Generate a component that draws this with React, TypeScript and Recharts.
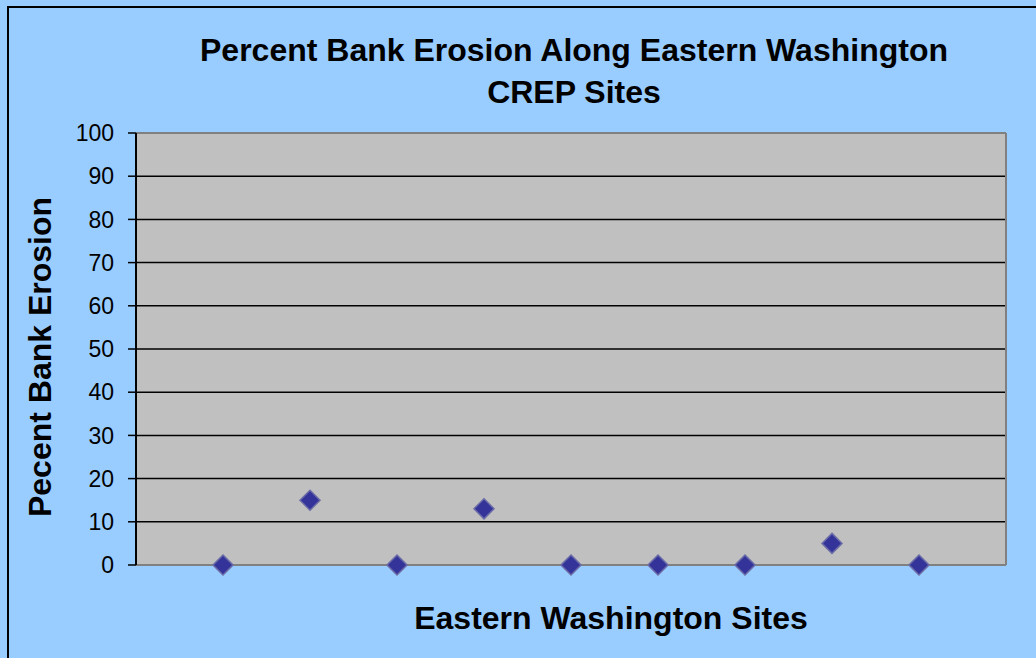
import React from "react";
import { ScatterChart, Scatter, XAxis, YAxis, CartesianGrid, ReferenceLine } from "recharts";

const sites = [1, 2, 3, 4, 5, 6, 7, 8, 9];
const erosion = [0, 15, 0, 13, 0, 0, 0, 5, 0];
const yTicks = [0, 10, 20, 30, 40, 50, 60, 70, 80, 90, 100];

const data = sites.map((s, i) => ({ site: s, value: erosion[i] }));

const font = "Arial, 'Liberation Sans', sans-serif";

function Diamond(props: any) {
  const { cx, cy } = props;
  const r = 10;
  return (
    <polygon
      points={`${cx},${cy - r} ${cx + r},${cy} ${cx},${cy + r} ${cx - r},${cy}`}
      fill="#333399"
      stroke="#6b6ba8"
      strokeWidth={1.5}
    />
  );
}

export default function App() {
  return (
    <div
      style={{
        position: "absolute",
        left: 0,
        top: 0,
        width: 1036,
        height: 658,
        background: "#99ccff",
        overflow: "hidden",
        fontFamily: font,
      }}
    >
      <div
        style={{
          position: "absolute",
          left: 7,
          top: 6,
          width: 1060,
          height: 700,
          border: "2px solid #000",
        }}
      />
      <div
        style={{
          position: "absolute",
          left: 0,
          top: 29,
          width: 1148,
          textAlign: "center",
          fontWeight: "bold",
          fontSize: 32,
          lineHeight: "42px",
          color: "#000",
        }}
      >
        Percent Bank Erosion Along Eastern Washington
        <br />
        CREP Sites
      </div>
      <div
        style={{
          position: "absolute",
          left: 40,
          top: 357,
          transform: "translate(-50%, -50%) rotate(-90deg)",
          whiteSpace: "nowrap",
          fontWeight: "bold",
          fontSize: 32,
        }}
      >
        Pecent Bank Erosion
      </div>
      <div
        style={{
          position: "absolute",
          left: 611,
          top: 618,
          transform: "translate(-50%, -50%)",
          whiteSpace: "nowrap",
          fontWeight: "bold",
          fontSize: 32,
        }}
      >
        Eastern Washington Sites
      </div>
      <div style={{ position: "absolute", left: 0, top: 0 }}>
        <ScatterChart
          width={1036}
          height={658}
          margin={{ top: 133, right: 30, bottom: 93, left: 76 }}
        >
          <CartesianGrid
            vertical={false}
            stroke="#000"
            strokeWidth={1.5}
            fill="#c0c0c0"
            fillOpacity={1}
          />
          <XAxis type="number" dataKey="site" domain={[0, 10]} hide />
          <YAxis
            type="number"
            dataKey="value"
            domain={[0, 100]}
            ticks={yTicks}
            interval={0}
            width={60}
            axisLine={{ stroke: "#000", strokeWidth: 2 }}
            tickLine={{ stroke: "#000", strokeWidth: 1.5 }}
            tickSize={8}
            tickMargin={14}
            tick={{ fill: "#000", fontSize: 23, fontFamily: font }}
          />
          <ReferenceLine y={100} stroke="#808080" strokeWidth={2} />
          <ReferenceLine y={0} stroke="#808080" strokeWidth={2} />
          <ReferenceLine x={10} stroke="#808080" strokeWidth={2} />
          <Scatter data={data} shape={Diamond} isAnimationActive={false} />
        </ScatterChart>
      </div>
    </div>
  );
}
